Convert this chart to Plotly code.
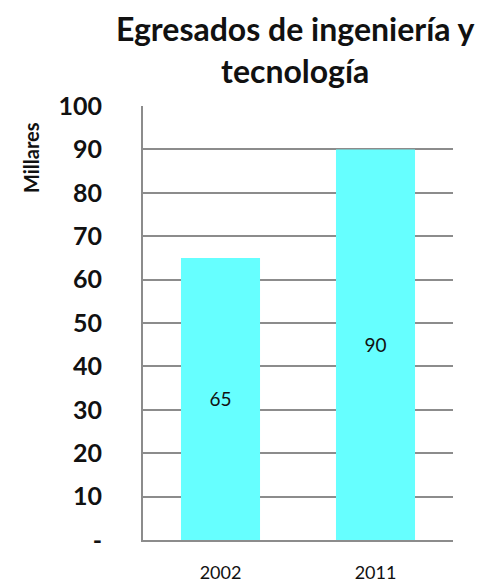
import plotly.graph_objects as go

categories = ["2002", "2011"]
values = [65, 90]
y_tickvals = [0, 10, 20, 30, 40, 50, 60, 70, 80, 90, 100]
y_ticktext = ["-", "10", "20", "30", "40", "50", "60", "70", "80", "90", "100"]

W, H = 495, 586
L, R, T, B = 143, 42, 106, 46
PW, PH = W - L - R, H - T - B

fig = go.Figure(go.Bar(
    x=categories, y=values,
    marker=dict(color="#66FFFF", line=dict(width=0)),
    text=[str(v) for v in values],
    textposition="inside", insidetextanchor="middle",
    textfont=dict(family="Lato", size=19, color="#111111"),
    width=0.51,
))

fig.update_layout(
    width=W, height=H,
    margin=dict(l=L, r=R, t=T, b=B, autoexpand=False),
    paper_bgcolor="white", plot_bgcolor="white",
    showlegend=False,
    font=dict(family="Lato", color="#111111"),
    annotations=[
        dict(
            text="<b>Egresados de ingeniería y<br>tecnología</b>",
            xref="paper", yref="paper",
            x=(295 - L) / PW, y=(H - B - 7) / PH,
            xanchor="center", yanchor="top", showarrow=False,
            font=dict(family="Lato", size=32, color="#111111"),
        ),
        dict(
            text="<b>Millares</b>", textangle=-90,
            xref="paper", yref="paper",
            x=(31 - L) / PW, y=(H - B - 158) / PH,
            xanchor="center", yanchor="middle", showarrow=False,
            font=dict(family="Lato", size=20, color="#111111"),
        ),
    ],
)

fig.update_yaxes(
    range=[0, 100], tickvals=y_tickvals, ticktext=y_ticktext,
    showgrid=True, gridcolor="#8c8c8c", gridwidth=1.5,
    showline=True, linecolor="#8c8c8c", linewidth=2,
    ticks="", ticklabelstandoff=34, automargin=False,
    tickfont=dict(family="Lato", size=25, color="#111111", weight="bold"),
    zeroline=False,
)
fig.update_xaxes(
    showline=True, linecolor="#8c8c8c", linewidth=2,
    ticks="", ticklabelstandoff=15, automargin=False,
    tickfont=dict(family="Lato", size=18, color="#111111"),
)

fig.write_html(
    "out.html",
    config={"displayModeBar": False},
    post_script="document.body.style.margin='0';document.body.style.overflow='hidden';",
)
